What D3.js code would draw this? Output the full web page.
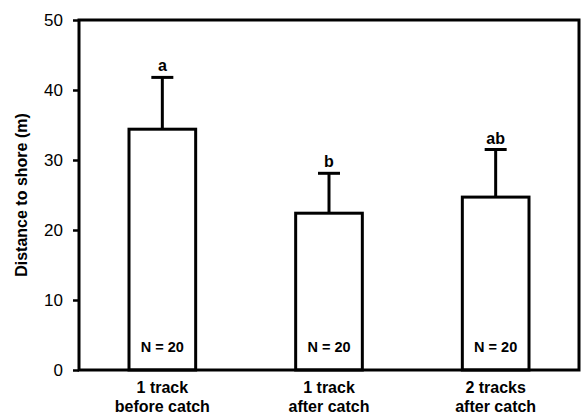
<!DOCTYPE html>
<html>
<head>
<meta charset="utf-8">
<script src="https://cdn.jsdelivr.net/npm/d3@7"></script>
<style>
  html, body { margin: 0; padding: 0; background: #fff; }
  text { font-family: "Liberation Sans", Arial, sans-serif; fill: #000; }
</style>
</head>
<body>
<div id="chart"></div>
<script>
// Data
const groups = ['1 track|before catch', '1 track|after catch', '2 tracks|after catch'];
const means = [34.4, 22.4, 24.7];
const upperErr = [41.8, 28.1, 31.5];
const letters = ['a', 'b', 'ab'];
const sampleSizes = ['N = 20', 'N = 20', 'N = 20'];
const yTicks = [0, 10, 20, 30, 40, 50];

const W = 581, H = 415;
const margin = { top: 20, right: 2, bottom: 45, left: 79 };
const width = W - margin.left - margin.right;
const height = H - margin.top - margin.bottom;

const svg = d3.select('#chart').append('svg')
  .attr('width', W).attr('height', H);
const g = svg.append('g').attr('transform', `translate(${margin.left},${margin.top})`);

const x = d3.scaleBand().domain(groups).range([0, width]).paddingInner(0.6).paddingOuter(0.3);
const y = d3.scaleLinear().domain([0, 50]).range([height, 0]);

// Bars
g.selectAll('rect.bar').data(groups).join('rect')
  .attr('class', 'bar')
  .attr('x', d => x(d))
  .attr('y', (d, i) => y(means[i]))
  .attr('width', x.bandwidth())
  .attr('height', (d, i) => y(0) - y(means[i]))
  .attr('fill', '#fff').attr('stroke', '#000').attr('stroke-width', 3);

// Error bars (upper only)
const capW = 22;
groups.forEach((d, i) => {
  const cx = x(d) + x.bandwidth() / 2;
  g.append('line')
    .attr('x1', cx).attr('x2', cx)
    .attr('y1', y(means[i])).attr('y2', y(upperErr[i]))
    .attr('stroke', '#000').attr('stroke-width', 3);
  g.append('line')
    .attr('x1', cx - capW / 2).attr('x2', cx + capW / 2)
    .attr('y1', y(upperErr[i])).attr('y2', y(upperErr[i]))
    .attr('stroke', '#000').attr('stroke-width', 3);
  g.append('text')
    .attr('x', cx).attr('y', y(upperErr[i]) - 6)
    .attr('text-anchor', 'middle')
    .style('font-size', '16px').style('font-weight', 'bold')
    .text(letters[i]);
  g.append('text')
    .attr('x', cx).attr('y', y(0) - 18)
    .attr('text-anchor', 'middle')
    .style('font-size', '14.5px').style('font-weight', 'bold')
    .text(sampleSizes[i]);
});

// Frame
g.append('rect')
  .attr('x', 0).attr('y', 0).attr('width', width).attr('height', height)
  .attr('fill', 'none').attr('stroke', '#000').attr('stroke-width', 3);

// Y axis
const yAxis = g.append('g')
  .call(d3.axisLeft(y).tickValues(yTicks).tickSize(6).tickPadding(10));
yAxis.select('.domain').remove();
yAxis.selectAll('.tick line').attr('stroke-width', 2.5);
yAxis.selectAll('.tick text')
  .style('font-size', '17px')
  .style('font-family', '"Liberation Sans", Arial, sans-serif');

// X axis labels (two lines)
const xLab = g.append('g').attr('transform', `translate(0,${height})`);
groups.forEach(d => {
  const lines = d.split('|');
  const t = xLab.append('text')
    .attr('x', x(d) + x.bandwidth() / 2)
    .attr('text-anchor', 'middle')
    .style('font-size', '16px').style('font-weight', 'bold');
  lines.forEach((l, j) => {
    t.append('tspan').attr('x', x(d) + x.bandwidth() / 2).attr('y', 23 + j * 19).text(l);
  });
});

// Y title
svg.append('text')
  .attr('transform', `translate(27,${margin.top + 175}) rotate(-90)`)
  .attr('text-anchor', 'middle')
  .style('font-size', '16px').style('font-weight', 'bold')
  .text('Distance to shore (m)');
</script>
</body>
</html>
